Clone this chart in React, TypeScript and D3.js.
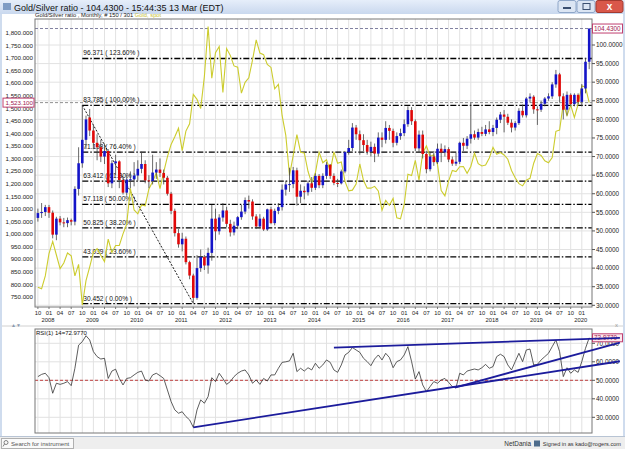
import * as d3 from "d3";

// monthly bars, Oct 2007 .. Mar 2020
const startYear = 2007;
const startMonth = 10;

const ratioOpen = [
  53.5, 54.8, 55.1,
  56.4, 54.9, 49.0, 53.3, 52.3, 52.1, 52.9, 52.5, 61.3, 68.2, 74.5, 80.5,
  77.0, 73.7, 72.5, 70.0, 71.5, 62.8, 68.2, 68.7, 63.7, 60.3, 63.8, 63.9,
  64.9, 66.7, 68.0, 63.6, 63.4, 65.7, 66.5, 65.6, 64.3, 60.0, 55.4, 49.4,
  46.4, 47.9, 41.6, 38.0, 32.0, 40.0, 43.0, 40.7, 44.1, 53.3, 49.9, 53.6,
  55.5, 51.9, 49.6, 51.4, 53.7, 55.2, 58.3, 57.9, 53.9, 51.2, 53.3, 50.4,
  55.8, 52.1, 55.4, 56.4, 61.1, 62.5, 62.6, 66.3, 59.2, 60.8, 60.4, 62.8,
  61.6, 64.8, 62.3, 64.8, 67.8, 64.8, 62.9, 62.8, 66.0, 71.2, 72.3, 77.8,
  76.0, 74.4, 73.1, 71.3, 72.6, 70.8, 75.1, 74.5, 77.7, 76.9, 73.7, 75.5,
  76.3, 78.7, 82.5, 79.5, 72.2, 75.9, 70.7, 66.6, 70.0, 68.5, 72.1, 71.1,
  72.0, 69.2, 68.1, 68.6, 73.7, 72.9, 74.8, 76.0, 75.1, 76.6, 76.1, 77.3,
  76.6, 77.7, 79.9, 81.3, 80.7, 79.1, 77.8, 79.0, 82.3, 81.1, 85.6, 86.1,
  82.7, 82.6, 84.2, 85.6, 86.2, 89.4, 92.1, 86.2, 82.6, 86.6, 84.1, 86.6,
  84.7, 88.3, 95.5,
];
const ratioHigh = [
  56.0, 57.5, 57.0,
  57.0, 55.5, 53.8, 54.0, 53.5, 53.6, 53.3, 62.0, 72.5, 83.785, 81.0, 82.8,
  78.5, 76.0, 74.5, 73.5, 72.0, 69.0, 70.5, 69.0, 64.5, 65.0, 66.0, 68.5,
  69.0, 71.3, 69.0, 65.0, 70.5, 68.5, 69.5, 66.5, 64.8, 60.5, 56.0, 50.5,
  49.5, 48.5, 42.0, 38.5, 43.5, 45.0, 43.5, 45.5, 57.0, 56.0, 54.5, 57.5,
  56.5, 53.0, 52.5, 54.0, 57.0, 59.0, 59.5, 58.5, 54.5, 54.5, 53.8, 56.0,
  56.5, 56.0, 57.5, 62.5, 63.5, 67.0, 67.2, 67.0, 62.5, 62.0, 63.5, 64.5,
  65.5, 65.3, 65.5, 68.5, 68.0, 65.5, 64.0, 66.5, 71.5, 74.5, 79.0, 78.5,
  77.0, 76.0, 74.5, 74.0, 73.5, 76.5, 76.5, 79.5, 78.5, 77.5, 76.5, 77.5,
  80.0, 83.5, 83.3, 80.0, 77.0, 77.0, 71.5, 71.0, 71.5, 73.5, 73.5, 73.0,
  72.5, 70.0, 71.0, 74.0, 75.0, 75.5, 84.5, 77.0, 77.5, 78.0, 78.5, 79.5,
  78.5, 80.5, 82.0, 82.5, 81.5, 80.0, 79.5, 83.0, 84.0, 86.0, 87.0, 86.5,
  83.5, 85.0, 86.0, 87.0, 90.0, 93.3, 92.5, 87.0, 87.5, 87.0, 87.0, 87.0,
  89.5, 96.5, 104.43,
];
const ratioLow = [
  52.5, 53.5, 54.0,
  53.5, 48.0, 47.5, 51.5, 51.0, 51.0, 51.5, 51.5, 59.5, 67.0, 72.0, 75.5,
  72.0, 69.0, 68.5, 68.0, 61.8, 61.5, 65.0, 61.5, 59.8, 59.5, 61.5, 62.0,
  63.5, 65.5, 62.8, 61.5, 62.5, 64.0, 64.5, 62.5, 59.5, 54.5, 48.5, 45.5,
  44.5, 41.0, 37.0, 30.452, 31.5, 39.0, 39.5, 38.5, 42.0, 47.5, 49.0, 52.5,
  51.0, 48.5, 48.8, 50.5, 53.0, 54.5, 56.0, 53.0, 50.5, 50.8, 50.0, 50.0,
  51.8, 51.5, 54.5, 55.5, 59.5, 60.5, 61.5, 56.8, 57.5, 58.5, 59.5, 60.5,
  61.0, 61.5, 61.5, 64.0, 64.0, 62.3, 61.8, 62.5, 65.5, 70.5, 71.5, 74.5,
  70.5, 71.5, 70.5, 70.0, 68.5, 70.0, 72.5, 73.5, 74.5, 72.5, 73.0, 74.5,
  75.5, 78.0, 78.5, 71.5, 71.0, 69.5, 65.5, 66.0, 67.5, 68.0, 68.5, 70.0,
  68.5, 67.5, 67.5, 68.0, 71.5, 72.0, 73.5, 74.5, 74.5, 75.5, 75.5, 76.0,
  75.5, 76.0, 79.0, 76.5, 78.5, 76.5, 77.0, 78.5, 80.5, 80.5, 84.5, 81.5,
  78.5, 82.0, 83.5, 85.0, 85.5, 88.5, 84.5, 80.0, 81.0, 83.5, 83.5, 84.0,
  83.5, 87.0, 93.5,
];
const ratioClose = [
  54.8, 55.1, 56.4,
  54.9, 49.0, 53.3, 52.3, 52.1, 52.9, 52.5, 61.3, 68.2, 74.5, 80.0, 77.0,
  73.7, 72.5, 70.0, 71.5, 62.8, 68.2, 68.7, 63.7, 60.3, 63.8, 63.9, 64.9,
  66.7, 68.0, 63.6, 63.4, 65.7, 66.5, 65.6, 64.3, 60.0, 55.4, 49.4, 46.4,
  47.9, 41.6, 38.0, 32.0, 40.0, 43.0, 40.7, 44.1, 53.3, 49.9, 53.6, 55.5,
  51.9, 49.6, 51.4, 53.7, 55.2, 58.3, 57.9, 53.9, 51.2, 53.3, 50.4, 55.8,
  52.1, 55.4, 56.4, 61.1, 62.5, 62.6, 66.3, 59.2, 60.8, 60.4, 62.8, 61.6,
  64.8, 62.3, 64.8, 67.8, 64.8, 62.9, 62.8, 66.0, 71.2, 72.3, 77.8, 76.0,
  74.4, 73.1, 71.3, 72.6, 70.8, 75.1, 74.5, 77.7, 76.9, 73.7, 75.5, 76.3,
  78.7, 82.5, 79.5, 72.2, 75.9, 70.7, 66.6, 70.0, 68.5, 72.1, 71.1, 72.0,
  69.2, 68.1, 68.6, 73.7, 72.9, 74.8, 76.0, 75.1, 76.6, 76.1, 77.3, 76.6,
  77.7, 79.9, 81.3, 80.7, 79.1, 77.8, 79.0, 82.3, 81.1, 85.6, 86.1, 82.7,
  82.6, 84.2, 85.6, 86.2, 89.4, 92.1, 86.2, 82.6, 86.6, 84.1, 86.6, 84.7,
  88.3, 95.5, 104.43,
];

// Gold, spot (left axis)
const goldClose = [
  789, 783, 834,
  923, 971, 917, 863, 885, 925, 914, 834, 880, 718, 815, 870,
  928, 942, 916, 891, 980, 927, 955, 955, 1001, 1040, 1182, 1096,
  1081, 1116, 1113, 1180, 1208, 1244, 1181, 1247, 1307, 1357, 1387, 1421,
  1332, 1410, 1439, 1556, 1536, 1500, 1628, 1826, 1620, 1722, 1746, 1564,
  1738, 1711, 1669, 1664, 1561, 1604, 1622, 1692, 1773, 1720, 1714, 1675,
  1663, 1578, 1596, 1472, 1393, 1234, 1312, 1396, 1326, 1323, 1250, 1202,
  1244, 1326, 1284, 1296, 1250, 1327, 1282, 1287, 1210, 1172, 1175, 1199,
  1279, 1213, 1183, 1183, 1190, 1172, 1095, 1134, 1115, 1142, 1065, 1061,
  1118, 1238, 1233, 1293, 1215, 1322, 1351, 1309, 1316, 1277, 1173, 1152,
  1211, 1253, 1249, 1268, 1269, 1242, 1269, 1322, 1280, 1271, 1275, 1303,
  1345, 1318, 1325, 1315, 1298, 1253, 1224, 1201, 1192, 1215, 1222, 1282,
  1321, 1313, 1292, 1284, 1305, 1409, 1414, 1520, 1472, 1513, 1464, 1517,
  1589, 1585, 1523.1,
];

// RSI(14)
const rsiValues = [
  52, 53.2, 53.8,
  51.4, 43, 48.4, 47.8, 48.4, 49.3, 47.1, 56.5, 69, 70.9, 74.1, 71.8,
  65.5, 62.8, 61.5, 61.9, 51, 55, 56, 51, 47.5, 51, 51.4, 52.9,
  54.3, 55, 50.2, 49.6, 52.9, 53.8, 52.5, 51, 44.8, 38.5, 34, 32.2,
  33, 30.4, 28.6, 24.6, 34, 39.4, 37.6, 41.2, 51.4, 49.3, 53.8, 51,
  47.8, 49.3, 52, 53.8, 55, 55.6, 52.9, 48.4, 50.2, 47.8, 51, 49.6,
  52.9, 52.9, 56.5, 59.7, 60, 60.5, 64.6, 54.7, 56.5, 55, 56.8, 55.6,
  59.2, 56.5, 58.3, 61, 59.7, 55.6, 54.3, 58.3, 63.7, 65.1, 67.7, 66.4,
  65.1, 61.9, 60.1, 57.9, 61.5, 63.7, 61, 64.6, 62.3, 56.8, 60.1, 61,
  63.7, 68.2, 60.1, 50.7, 54.7, 47.5, 43.9, 46.6, 49.3, 48.4, 50.2, 51,
  48.9, 46.6, 46, 53.8, 52.9, 55, 55.6, 56.1, 55.6, 56.8, 58.6, 56.5,
  57.4, 62.8, 64.1, 62.8, 58.3, 55.6, 60.1, 64.6, 60.1, 66.4, 66.9, 58.3,
  58.6, 61, 62.8, 64.6, 68.2, 71.8, 65.5, 52, 56.8, 53.8, 55.6, 54.3,
  60.1, 67.3, 72.977,
];

const fibLevels = [
  { value: 96.371, label: "96.371 ( 123.60% )" },
  { value: 83.785, label: "83.785 ( 100.00% )" },
  { value: 71.198, label: "71.198 ( 76.40% )" },
  { value: 63.412, label: "63.412 ( 61.80% )" },
  { value: 57.118, label: "57.118 ( 50.00% )" },
  { value: 50.825, label: "50.825 ( 38.20% )" },
  { value: 43.039, label: "43.039 ( 23.60% )" },
  { value: 30.452, label: "30.452 ( 0.00% )" },
];
const fibStart = { index: 12, value: 83.785 };
const fibEnd = { index: 42, value: 30.452 };

// RSI trend lines, [month index, rsi]
const rsiTrendLines = [
  [[42, 24.6], [157.3, 60.3]],
  [[80, 67.7], [157.3, 72.9]],
  [[112.7, 46.1], [157.3, 70.4]],
];

const lastRatio = 104.43;
const lastGold = 1523.1;
const lastRsi = 72.977;

const ratioTicks = d3.range(30, 101, 5);
const goldTicks = d3.range(750, 1801, 50);
const rsiTicks = [30, 40, 50, 60, 70];

const W = 625;
const H = 449;
const main = { left: 35, right: 592, top: 19, bottom: 307 };
const lower = { left: 35, right: 592, top: 329, bottom: 433 };
const font = "'Liberation Sans', Arial, sans-serif";

export default function App() {
  const n = ratioClose.length;
  const x = d3.scaleLinear().domain([0, n - 1]).range([37.9, 589.2]);
  const yRatio = d3.scaleLinear().domain([30, 100]).range([305.3, 45]);
  const yGold = d3.scaleLinear().domain([750, 1800]).range([297, 33]);
  const yRsi = d3.scaleLinear().domain([30, 70]).range([417.3, 343.3]);

  const months = d3.range(n).map((i) => {
    const k = startMonth - 1 + i;
    return { i, m: (k % 12) + 1, year: startYear + Math.floor(k / 12) };
  });
  const quarters = months.filter((d) => (d.m - 1) % 3 === 0);

  const goldLine = d3
    .line<number>()
    .x((_, i) => x(i))
    .y((d) => yGold(d))(goldClose);
  const rsiLine = d3
    .line<number>()
    .x((_, i) => x(i))
    .y((d) => yRsi(d))(rsiValues);

  const fmt4 = d3.format(".4f");
  const fmtGold = d3.format(",.3f");
  const bw = 2.6;

  return (
    <svg width={W} height={H} style={{ display: "block", fontFamily: font }}>
      <style>{`body{margin:0}`}</style>
      <defs>
        <linearGradient id="tb" x1="0" y1="0" x2="0" y2="1">
          <stop offset="0" stopColor="#e6eefa" />
          <stop offset="1" stopColor="#c9d8ee" />
        </linearGradient>
        <clipPath id="mainClip">
          <rect x={main.left} y={main.top} width={main.right - main.left} height={main.bottom - main.top} />
        </clipPath>
        <clipPath id="lowClip">
          <rect x={lower.left} y={lower.top} width={lower.right - lower.left} height={lower.bottom - lower.top} />
        </clipPath>
      </defs>

      {/* window frame */}
      <rect x={0} y={0} width={W} height={H} fill="#cfdcee" />
      <rect x={2} y={14} width={W - 4} height={422} fill="#ffffff" />
      <rect x={0} y={0} width={W} height={14} fill="url(#tb)" />
      <rect x={3} y={3} width={8} height={7} fill="#7f9cc4" />
      <text x={14} y={10.5} fontSize={9} fill="#111">
        Gold/Silver ratio - 104.4300 - 15:44:35  13 Mar (EDT)
      </text>
      <rect x={558} y={0.5} width={18} height={12} rx={2} fill="#dbe5f3" stroke="#8ea6c8" />
      <rect x={563} y={7} width={8} height={2} fill="#3a4f70" />
      <rect x={577} y={0.5} width={18} height={12} rx={2} fill="#dbe5f3" stroke="#8ea6c8" />
      <rect x={583} y={3.5} width={7} height={6} fill="none" stroke="#3a4f70" />
      <rect x={596} y={0.5} width={27} height={12} rx={2} fill="#d9574a" stroke="#a33a30" />
      <text x={609.5} y={10} fontSize={10} fontWeight="bold" fill="#fff" textAnchor="middle">x</text>

      {/* chart header */}
      <text x={main.left} y={16.5} fontSize={5.8} fill="#222">
        Gold/Silver ratio , Monthly, # 150 / 301
        <tspan fill="#c8c030"> Gold, spot</tspan>
      </text>

      {/* main grid */}
      <g stroke="#e2e2e2" strokeWidth={1}>
        {quarters.map((d) => (
          <line key={"v" + d.i} x1={x(d.i)} x2={x(d.i)} y1={main.top} y2={main.bottom} />
        ))}
        {ratioTicks.map((t) => (
          <line key={"h" + t} x1={main.left} x2={main.right} y1={yRatio(t)} y2={yRatio(t)} />
        ))}
      </g>

      <g clipPath="url(#mainClip)">
        {/* current price lines */}
        <line x1={main.left} x2={main.right} y1={yRatio(lastRatio)} y2={yRatio(lastRatio)}
          stroke="#8080a0" strokeDasharray="3,2" />
        <line x1={main.left} x2={main.right} y1={yGold(lastGold)} y2={yGold(lastGold)}
          stroke="#909090" strokeDasharray="3,2" />

        {/* fibonacci */}
        {fibLevels.map((f) => (
          <g key={f.label}>
            <line x1={x(fibStart.index)} x2={main.right} y1={yRatio(f.value)} y2={yRatio(f.value)}
              stroke="#000" strokeWidth={1.3} strokeDasharray="6,2,1.5,2" />
            <text x={x(fibStart.index) + 1} y={yRatio(f.value) - 3} fontSize={6.6} fill="#111">
              {f.label}
            </text>
          </g>
        ))}
        <line x1={x(fibStart.index)} y1={yRatio(fibStart.value)} x2={x(fibEnd.index)} y2={yRatio(fibEnd.value)}
          stroke="#000" strokeWidth={0.9} strokeDasharray="2,1.5" />

        {/* gold */}
        <path d={goldLine ?? ""} fill="none" stroke="#cccc2e" strokeWidth={1.1} />

        {/* candles */}
        {ratioClose.map((c, i) => {
          const o = ratioOpen[i];
          const up = c >= o;
          const top = yRatio(Math.max(o, c));
          const h = Math.max(1, Math.abs(yRatio(o) - yRatio(c)));
          return (
            <g key={"c" + i}>
              <line x1={x(i)} x2={x(i)} y1={yRatio(ratioHigh[i])} y2={yRatio(ratioLow[i])}
                stroke="#444" strokeWidth={0.8} />
              <rect x={x(i) - bw / 2} y={top} width={bw} height={h} fill={up ? "#1414c8" : "#e00808"} />
            </g>
          );
        })}
      </g>

      {/* main frame and axes */}
      <rect x={main.left} y={main.top} width={main.right - main.left} height={main.bottom - main.top}
        fill="none" stroke="#777" />
      {ratioTicks.map((t) => (
        <g key={"rt" + t}>
          <line x1={main.right} x2={main.right + 3} y1={yRatio(t)} y2={yRatio(t)} stroke="#555" />
          <text x={main.right + 4} y={yRatio(t) + 2.2} fontSize={6.4} fill="#222">{fmt4(t)}</text>
        </g>
      ))}
      {goldTicks.map((t) => (
        <text key={"gt" + t} x={main.left - 2} y={yGold(t) + 2.2} fontSize={6.2} fill="#222" textAnchor="end">
          {fmtGold(t)}
        </text>
      ))}
      <rect x={592.5} y={yRatio(lastRatio) - 4.5} width={30} height={9} fill="#fff" stroke="#c04070" />
      <text x={594} y={yRatio(lastRatio) + 2.3} fontSize={6.4} fill="#a02050">{fmt4(lastRatio)}</text>
      <rect x={3} y={yGold(lastGold) - 4.5} width={31} height={9} fill="#fff" stroke="#c04070" />
      <text x={33} y={yGold(lastGold) + 2.3} fontSize={6.2} fill="#a02050" textAnchor="end">
        {fmtGold(lastGold)}
      </text>

      {/* time axis */}
      {quarters.map((d) => (
        <g key={"xt" + d.i}>
          <line x1={x(d.i)} x2={x(d.i)} y1={main.bottom} y2={main.bottom + 2} stroke="#777" />
          <text x={x(d.i)} y={314.5} fontSize={5.8} fill="#222" textAnchor="middle">
            {String(d.m).padStart(2, "0")}
          </text>
          {d.m === 1 && (
            <text x={x(d.i) - 1} y={322} fontSize={5.8} fill="#222" textAnchor="middle">{d.year}</text>
          )}
        </g>
      ))}

      {/* panel separator */}
      <line x1={2} x2={W - 2} y1={326} y2={326} stroke="#d0d0d0" />
      <text x={11} y={327} fontSize={5} fill="#8a9ab0">▲▼</text>
      <text x={615} y={327} fontSize={6} fill="#999">x</text>

      {/* RSI panel */}
      <g stroke="#e2e2e2" strokeWidth={1}>
        {quarters.map((d) => (
          <line key={"lv" + d.i} x1={x(d.i)} x2={x(d.i)} y1={lower.top} y2={lower.bottom} />
        ))}
        {rsiTicks.map((t) => (
          <line key={"lh" + t} x1={lower.left} x2={lower.right} y1={yRsi(t)} y2={yRsi(t)} />
        ))}
      </g>
      <g clipPath="url(#lowClip)">
        <line x1={lower.left} x2={lower.right} y1={yRsi(50)} y2={yRsi(50)} stroke="#c04040" strokeDasharray="3,2" />
        <path d={rsiLine ?? ""} fill="none" stroke="#333" strokeWidth={0.8} />
      </g>
      <rect x={lower.left} y={lower.top} width={lower.right - lower.left} height={lower.bottom - lower.top}
        fill="none" stroke="#777" />
      {rsiTicks.map((t) => (
        <g key={"rk" + t}>
          <line x1={lower.right} x2={lower.right + 3} y1={yRsi(t)} y2={yRsi(t)} stroke="#555" />
          <text x={lower.right + 4} y={yRsi(t) + 2.2} fontSize={6.4} fill="#222">{fmt4(t)}</text>
        </g>
      ))}
      <rect x={592.5} y={yRsi(lastRsi) - 4} width={30} height={8} fill="#fde8ee" stroke="#c04070" />
      <text x={594} y={yRsi(lastRsi) + 2.2} fontSize={6.4} fill="#a02050">{fmt4(lastRsi)}</text>
      {rsiTrendLines.map((seg, k) => (
        <line key={"tl" + k} x1={x(seg[0][0])} y1={yRsi(seg[0][1])} x2={x(seg[1][0])} y2={yRsi(seg[1][1])}
          stroke="#1c1c9c" strokeWidth={1.8} />
      ))}
      <text x={lower.left + 1} y={lower.top + 6} fontSize={6} fill="#111">RSI(1) 14=72.9770</text>

      {/* status bar */}
      <rect x={0} y={436} width={W} height={13} fill="#eeeeee" />
      <line x1={0} x2={W} y1={436.5} y2={436.5} stroke="#b8c4d4" />
      <rect x={1.5} y={438.5} width={72} height={10} fill="#fafafa" stroke="#b0b0b0" />
      <circle cx={6} cy={442.5} r={2} fill="none" stroke="#666" strokeWidth={0.8} />
      <line x1={4.5} y1={444} x2={3} y2={446.5} stroke="#666" strokeWidth={0.8} />
      <text x={11} y={446.3} fontSize={6.1} fill="#555">Search for instrument</text>
      <text x={531} y={446.3} fontSize={6.4} fill="#333" textAnchor="end">NetDania</text>
      <rect x={534} y={440.5} width={6} height={6} fill="#4d6c8c" />
      <text x={621} y={446.3} fontSize={5.6} fill="#333" textAnchor="end">Signed in as kado@rogers.com</text>
    </svg>
  );
}
